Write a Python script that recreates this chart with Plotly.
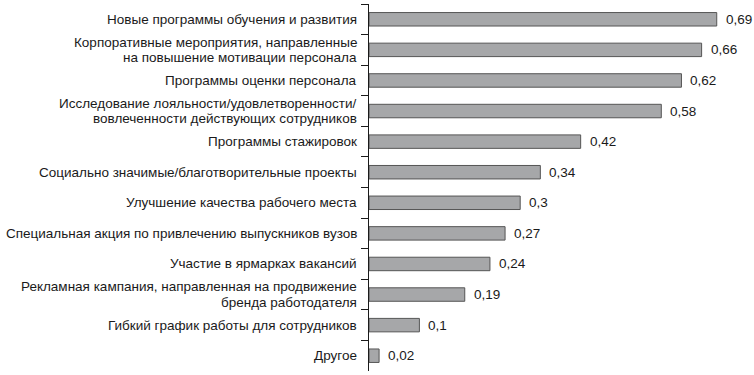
import plotly.graph_objects as go

categories = [
    "Новые программы обучения и развития",
    "Корпоративные мероприятия, направленные<br>на повышение мотивации персонала",
    "Программы оценки персонала",
    "Исследование лояльности/удовлетворенности/<br>вовлеченности действующих сотрудников",
    "Программы стажировок",
    "Социально значимые/благотворительные проекты",
    "Улучшение качества рабочего места",
    "Специальная акция по привлечению выпускников вузов",
    "Участие в ярмарках вакансий",
    "Рекламная кампания, направленная на продвижение<br>бренда работодателя",
    "Гибкий график работы для сотрудников",
    "Другое",
]
values = [0.69, 0.66, 0.62, 0.58, 0.42, 0.34, 0.3, 0.27, 0.24, 0.19, 0.1, 0.02]
value_labels = [str(v).replace(".", ",") for v in values]

FONT = "Liberation Sans, Arial, sans-serif"
FS = 13.5
TXT = "#1a1a1a"
LINE_STEP = 15.2  # px between lines of a two-line category label

fig = go.Figure()
fig.add_trace(go.Bar(
    x=values,
    y=categories,
    orientation="h",
    width=0.44,
    marker=dict(color="#a6a7a9", line=dict(color="#555555", width=1)),
    hoverinfo="skip",
))

# value labels to the right of each bar
for v, c, t in zip(values, categories, value_labels):
    fig.add_annotation(
        x=v, y=c, text=t, showarrow=False,
        xanchor="left", yanchor="middle", xshift=7,
        font=dict(family=FONT, size=FS, color=TXT),
    )

# category labels (drawn line by line to keep tight leading)
for c in categories:
    lines = c.split("<br>")
    n = len(lines)
    for i, ln in enumerate(lines):
        shift = ((n - 1) / 2 - i) * LINE_STEP
        fig.add_annotation(
            xref="paper", x=0, y=c, text=ln, showarrow=False,
            xanchor="right", yanchor="middle", xshift=-10, yshift=shift,
            font=dict(family=FONT, size=FS, color=TXT),
        )

fig.update_layout(
    width=754, height=375,
    margin=dict(l=369, r=4, t=3.5, b=3.5, autoexpand=False),
    paper_bgcolor="white", plot_bgcolor="white",
    showlegend=False,
    font=dict(family=FONT, size=FS, color=TXT),
    xaxis=dict(range=[0, 0.756], visible=False, fixedrange=True),
    yaxis=dict(
        autorange="reversed",
        automargin=False,
        showline=True, linecolor=TXT, linewidth=1,
        ticks="outside", ticklen=7, tickcolor=TXT, tickwidth=1,
        tickson="boundaries",
        showgrid=False, zeroline=False,
        showticklabels=False,
        fixedrange=True,
    ),
)

fig.write_html(
    "out.html",
    config={"displayModeBar": False},
    post_script="document.body.style.margin='0';document.body.style.overflow='hidden';",
)
